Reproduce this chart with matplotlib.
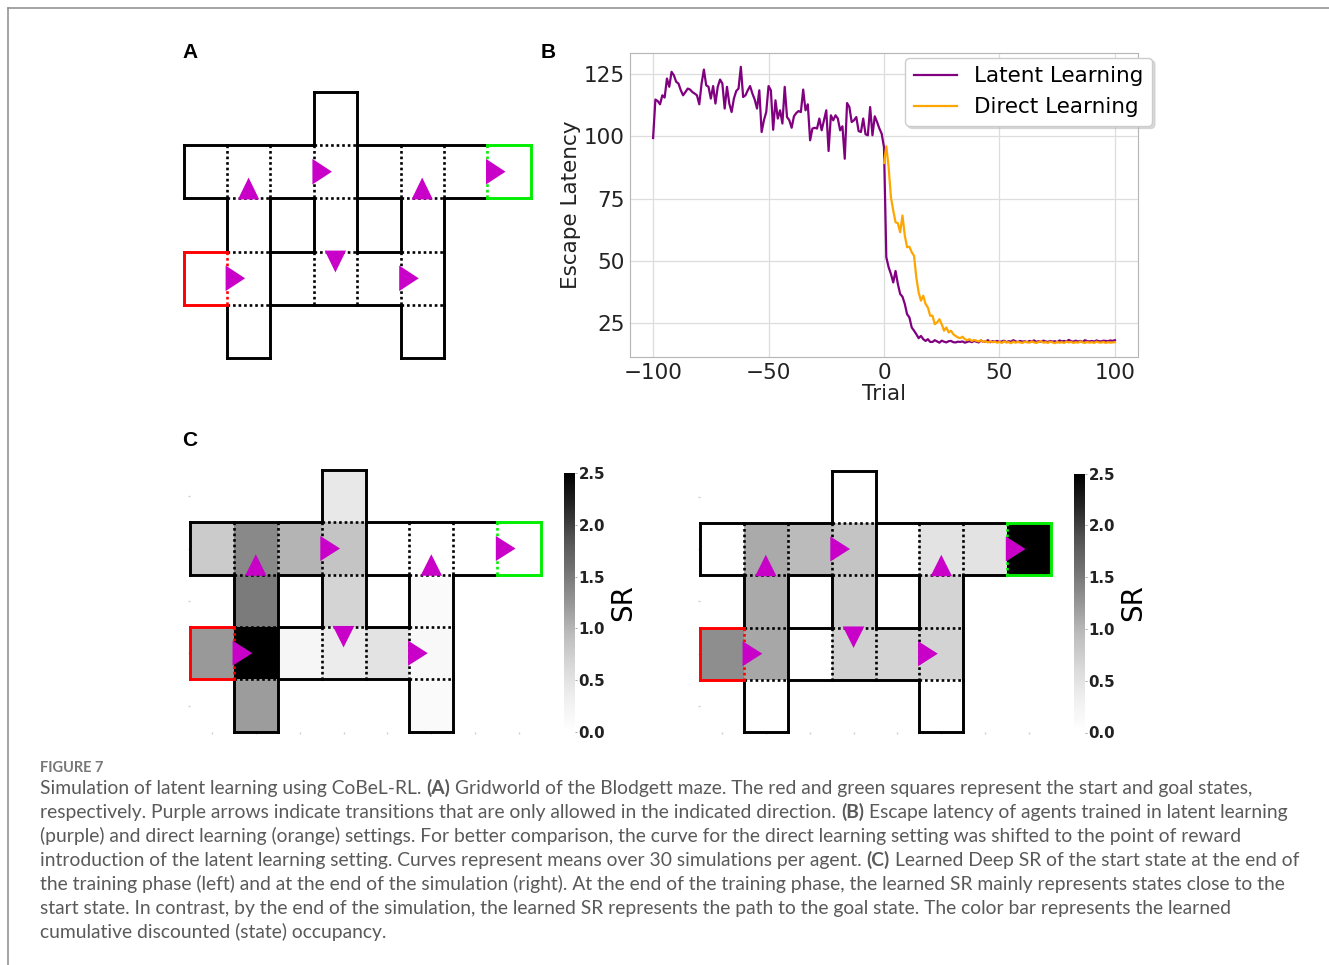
import matplotlib
matplotlib.use('Agg')
import matplotlib.pyplot as plt
import matplotlib.transforms as mtransforms
from matplotlib.lines import Line2D
from matplotlib.patches import Polygon
import numpy as np

W, H = 1329, 965
nan = np.nan

# ---- maze layout (row, col), rows counted from the top ----
maze_cells = [(0, 3),
              (1, 0), (1, 1), (1, 2), (1, 3), (1, 4), (1, 5), (1, 6), (1, 7),
              (2, 1), (2, 3), (2, 5),
              (3, 0), (3, 1), (3, 2), (3, 3), (3, 4), (3, 5),
              (4, 1), (4, 5)]
inner_walls = [((1, 3), (1, 4)), ((3, 1), (3, 2))]
start_cell = (3, 0)
goal_cell = (1, 7)
# one-way transitions: destination cell and direction of travel
one_way = [((1, 1), 'up'), ((1, 3), 'right'), ((1, 5), 'up'), ((1, 7), 'right'),
           ((3, 1), 'right'), ((3, 3), 'down'), ((3, 5), 'right')]

# ---- panel B: escape latency ----
latent_trials = np.arange(-100, 101)
latent_before = [99.2, 114.6, 114.0, 112.7, 116.3, 115.4, 123.0, 119.7, 125.7, 124.3,
                 121.7, 121.0, 118.3, 116.3, 117.6, 119.0, 118.6, 117.6, 117.0, 116.3,
                 112.7, 121.0, 126.6, 120.3, 119.7, 115.0, 120.0, 113.0, 119.7, 122.6,
                 121.0, 111.0, 119.7, 113.0, 109.6, 115.0, 118.0, 119.0, 127.7, 115.6,
                 116.3, 118.3, 120.0, 117.0, 114.6, 111.0, 118.3, 101.6, 106.3, 109.6,
                 120.0, 118.3, 102.5, 114.3, 107.0, 110.3, 105.0, 119.7, 107.6, 106.3,
                 103.3, 107.9, 109.2, 110.0, 109.6, 118.6, 110.3, 112.7, 98.3, 103.0,
                 103.3, 103.0, 107.0, 102.3, 106.3, 110.3, 94.0, 108.3, 106.3, 108.3,
                 107.0, 102.3, 103.9, 90.9, 113.2, 111.6, 105.6, 106.3, 107.6, 102.0,
                 101.6, 107.0, 100.7, 100.3, 111.6, 100.3, 107.9, 105.6, 103.0, 100.9,
                 95.5]
latent_after = [51.5, 47.5, 44.8, 41.4, 46.0, 40.8, 36.8, 35.7, 32.8, 28.7,
                27.4, 23.4, 22.1, 20.7, 19.1, 20.0, 18.7, 18.0, 18.7, 17.6,
                17.6, 18.3, 17.8, 17.3, 18.1, 17.7, 17.4, 17.9, 18.0, 17.5,
                17.4, 17.7, 17.6, 17.8, 17.3, 17.6, 17.9, 17.5, 18.0, 17.7,
                17.4, 18.2, 17.6, 17.8, 18.3, 17.5, 17.9, 17.7, 18.0, 17.6,
                17.8, 18.1, 17.5, 17.9, 17.7, 18.3, 17.8, 17.6, 18.0, 17.7,
                17.9, 17.5, 18.0, 17.8, 18.2, 17.6, 17.9, 17.7, 18.1, 17.8,
                17.6, 18.0, 17.7, 17.9, 17.5, 18.2, 17.8, 18.0, 17.7, 18.4,
                17.9, 17.7, 18.1, 17.8, 18.0, 17.6, 18.3, 17.9, 17.8, 18.0,
                17.7, 18.2, 17.9, 17.8, 18.1, 18.0, 17.9, 18.2, 18.0, 18.3]
latent_latency = latent_before + latent_after

direct_trials = np.arange(0, 101)
direct_latency = [89.2, 95.9, 87.6, 75.5, 70.2, 65.5, 65.1, 61.5, 68.2, 60.2,
                  55.5, 55.7, 53.5, 52.1, 43.4, 37.4, 34.1, 36.1, 32.8, 31.4,
                  28.1, 28.1, 24.7, 25.4, 26.7, 24.7, 22.1, 23.4, 21.4, 22.1,
                  20.7, 20.0, 19.4, 19.1, 19.7, 18.7, 18.3, 18.7, 18.0, 18.4,
                  18.1, 17.8, 18.3, 17.6, 17.9, 17.4, 17.8, 17.5, 17.7, 17.3,
                  17.6, 17.2, 17.8, 17.4, 17.5, 17.1, 17.7, 17.3, 17.6, 17.4,
                  17.2, 17.7, 17.5, 17.3, 17.8, 17.4, 17.2, 17.6, 17.9, 17.3,
                  17.5, 17.2, 17.7, 17.4, 17.1, 17.6, 17.3, 17.5, 17.2, 17.7,
                  17.4, 17.6, 17.2, 17.5, 17.3, 17.8, 17.4, 17.2, 17.6, 17.3,
                  17.5, 17.2, 17.7, 17.4, 17.3, 17.6, 17.2, 17.5, 17.3, 17.4,
                  17.5]
x_ticks = [-100, -50, 0, 50, 100]
y_ticks = [25, 50, 75, 100, 125]

# ---- panel C: learned SR of the start state ----
sr_training = [[nan, nan, nan, 0.42, nan, nan, nan, nan],
               [0.79, 1.36, 1.01, 0.86, 0.0, 0.0, 0.0, 0.0],
               [nan, 1.49, nan, 0.68, nan, 0.10, nan, nan],
               [1.23, 2.50, 0.19, 0.38, 0.49, 0.15, nan, nan],
               [nan, 1.21, nan, nan, nan, 0.10, nan, nan]]
sr_final = [[nan, nan, nan, 0.0, nan, nan, nan, nan],
            [0.0, 1.09, 0.95, 0.86, 0.0, 0.49, 0.49, 2.6],
            [nan, 1.09, nan, 0.80, nan, 0.68, nan, nan],
            [1.32, 1.12, 0.0, 0.72, 0.68, 0.70, nan, nan],
            [nan, 0.0, nan, nan, nan, 0.0, nan, nan]]
sr_ticks = [0.0, 0.5, 1.0, 1.5, 2.0, 2.5]

caption_lines = [
    [("Simulation of latent learning using CoBeL-RL.", False), ("(A)", True),
     ("Gridworld of the Blodgett maze. The red and green squares represent the start and goal states,", False)],
    [("respectively. Purple arrows indicate transitions that are only allowed in the indicated direction.", False),
     ("(B)", True), ("Escape latency of agents trained in latent learning", False)],
    [("(purple) and direct learning (orange) settings. For better comparison, the curve for the direct learning setting was shifted to the point of reward", False)],
    [("introduction of the latent learning setting. Curves represent means over 30 simulations per agent.", False),
     ("(C)", True), ("Learned Deep SR of the start state at the end of", False)],
    [("the training phase (left) and at the end of the simulation (right). At the end of the training phase, the learned SR mainly represents states close to the", False)],
    [("start state. In contrast, by the end of the simulation, the learned SR represents the path to the goal state. The color bar represents the learned", False)],
    [("cumulative discounted (state) occupancy.", False)],
]

PURPLE_ARROW = '#c800c8'


def px_rect(x, y, w, h):
    return [x / W, 1 - (y + h) / H, w / W, h / H]


def cell_sides(r, c):
    return [((r - 1, c), [c, c + 1], [r, r]),
            ((r + 1, c), [c, c + 1], [r + 1, r + 1]),
            ((r, c - 1), [c, c], [r, r + 1]),
            ((r, c + 1), [c + 1, c + 1], [r, r + 1])]


def draw_maze(ax):
    ax.set_xlim(0, 8)
    ax.set_ylim(5, 0)
    cells = set(maze_cells)
    walls = {frozenset(w) for w in inner_walls}
    special = {start_cell: '#ff0000', goal_cell: '#00ee00'}
    done = set()
    for cell in maze_cells:
        for nb, xs, ys in cell_sides(*cell):
            key = frozenset([cell, nb])
            if key in done:
                continue
            done.add(key)
            color = special.get(cell, special.get(nb, 'black'))
            z = 4 if color != 'black' else 3
            if nb in cells and key not in walls:
                ax.plot(xs, ys, color=color, lw=1.9, ls=(0, (1, 1.1)),
                        dash_capstyle='butt', zorder=z, clip_on=False)
            else:
                ax.plot(xs, ys, color=color, lw=2.1, solid_capstyle='projecting',
                        zorder=z, clip_on=False)
    for (r, c), d in one_way:
        if d == 'up':
            xc, y0 = c + 0.5, r + 1
            pts = [(xc - 0.245, y0 + 0.02), (xc + 0.245, y0 + 0.02), (xc, y0 - 0.39)]
        elif d == 'down':
            xc, y0 = c + 0.5, r
            pts = [(xc - 0.245, y0 - 0.02), (xc + 0.245, y0 - 0.02), (xc, y0 + 0.39)]
        else:
            x0, yc = c, r + 0.5
            pts = [(x0 - 0.03, yc - 0.24), (x0 - 0.03, yc + 0.24), (x0 + 0.42, yc)]
        ax.add_patch(Polygon(pts, closed=True, facecolor=PURPLE_ARROW, lw=0, zorder=5))


fig = plt.figure(figsize=(W / 100, H / 100), dpi=100)

# page frame
fig.add_artist(Line2D([8 / W, 1], [1 - 7.5 / H, 1 - 7.5 / H], transform=fig.transFigure,
                      color='#8c8c8c', lw=1.1))
fig.add_artist(Line2D([8 / W, 8 / W], [0, 1 - 7.5 / H], transform=fig.transFigure,
                      color='#8c8c8c', lw=1.1))

# ---- A ----
ax_a = fig.add_axes(px_rect(183.5, 91.7, 347.2, 266.6))
draw_maze(ax_a)
ax_a.axis('off')

# ---- B ----
ax_b = fig.add_axes(px_rect(630, 53, 508, 304))
ax_b.plot(latent_trials, latent_latency, color='purple', lw=1.6, label='Latent Learning')
ax_b.plot(direct_trials, direct_latency, color='orange', lw=1.6, label='Direct Learning')
ax_b.set_xticks(x_ticks)
ax_b.set_yticks(y_ticks)
ax_b.grid(True, color='#dddddd', lw=0.9)
ax_b.set_axisbelow(True)
for s in ax_b.spines.values():
    s.set_color('#b5b5b5')
ax_b.tick_params(length=0, labelsize=15.5, pad=4, labelcolor='#222222')
ax_b.set_xlabel('Trial', fontsize=15.5, labelpad=1, color='#222222')
ax_b.set_ylabel('Escape Latency', fontsize=15.5, labelpad=2, color='#222222')
ax_b.legend(loc='upper right', bbox_to_anchor=(1.049, 1.02), fontsize=15.5,
            edgecolor='#cccccc', framealpha=1,
            shadow={'color': '#bbbbbb', 'alpha': 0.5})

# ---- C ----
for sr, (x0, y0), cb_x in [(sr_training, (190, 470), 564), (sr_final, (700, 470.5), 1074)]:
    ax = fig.add_axes(px_rect(x0, y0, 351, 261.7))
    mesh = ax.pcolormesh(np.arange(9), np.arange(6), np.ma.masked_invalid(np.array(sr)),
                         cmap='Greys', vmin=0, vmax=2.5, zorder=1)
    draw_maze(ax)
    ax.set_xticks(np.arange(8) + 0.5)
    ax.set_yticks(np.arange(5) + 0.5)
    ax.tick_params(length=1.5, width=1, color='#cccccc', labelbottom=False, labelleft=False)
    for s in ax.spines.values():
        s.set_visible(False)
    cax = fig.add_axes(px_rect(cb_x, y0 + 3, 11, 259))
    cb = fig.colorbar(mesh, cax=cax)
    cb.outline.set_visible(False)
    cax.set_yticks(sr_ticks, labels=[f'{t:.1f}' for t in sr_ticks],
                   fontsize=10.8, fontweight='bold', color='#222222')
    cax.tick_params(length=1.5, width=0.6, pad=1, color='#999999')
    cb.set_label('SR', fontsize=20, labelpad=3)

# panel letters
for letter, (x, y) in [('A', (190, 53)), ('B', (548, 53)), ('C', (190, 441))]:
    fig.text(x / W, 1 - y / H, letter, fontsize=15, fontweight='bold',
             family='Liberation Sans', ha='center', va='center')

# ---- caption ----
renderer = fig.canvas.get_renderer()
ident = mtransforms.IdentityTransform()


def text_width(s, size, bold=False):
    t = fig.text(0, 0, s, transform=ident, fontsize=size, family='Lato',
                 fontweight='bold' if bold else 'normal')
    w = t.get_window_extent(renderer).width
    t.remove()
    return w


first = ' '.join(p for p, _ in caption_lines[0])
cap_size = 12 * 1207 / text_width(first, 12)
space_w = text_width('n n', cap_size) - text_width('nn', cap_size)

fig.text(40, H - 772, 'FIGURE 7', transform=ident, fontsize=10.5, family='Lato',
         fontweight='bold', color='#777777', va='baseline')
for i, parts in enumerate(caption_lines):
    x = 40
    y = H - (794 + 24 * i)
    for txt, bold in parts:
        t = fig.text(x, y, txt, transform=ident, fontsize=cap_size, family='Lato',
                     fontweight='bold' if bold else 'normal', color='#5a5a5a', va='baseline')
        x = t.get_window_extent(renderer).x1 + space_w

fig.savefig('out.png', dpi=100)
